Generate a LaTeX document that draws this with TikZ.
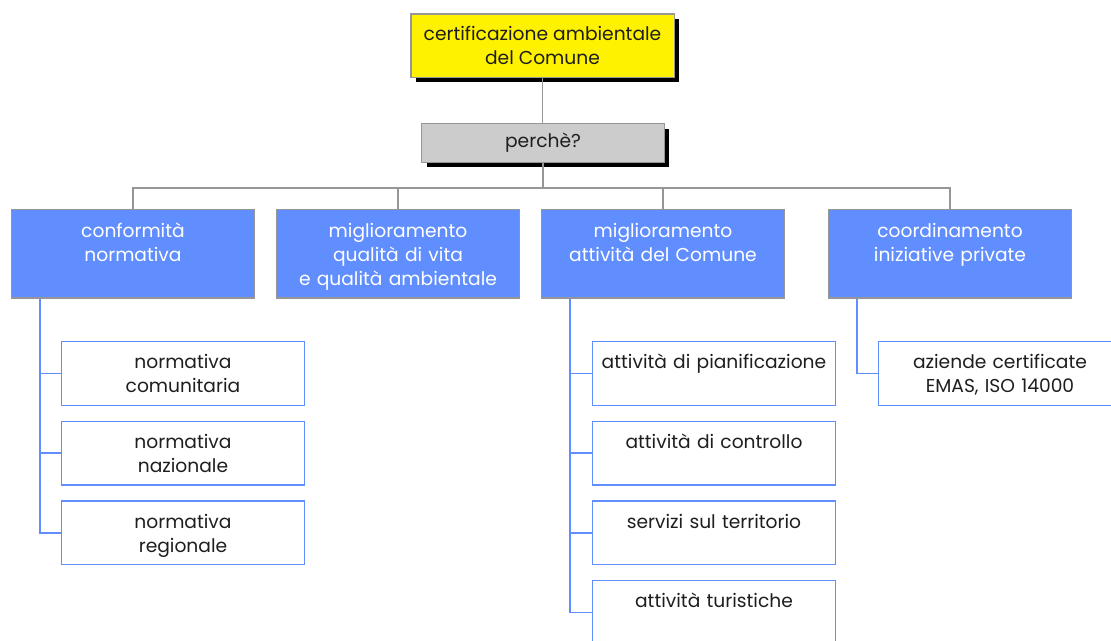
\documentclass[tikz,border=0pt]{standalone}
\usepackage{fontspec}
\setmainfont{Poppins}
\usetikzlibrary{positioning,calc,shadows}

\definecolor{boxblue}{RGB}{97,142,255}
\definecolor{linegray}{RGB}{150,150,150}
\definecolor{headgray}{RGB}{204,204,204}
\definecolor{ink}{RGB}{30,30,30}

\begin{document}
\begin{tikzpicture}[x=0.75pt,y=-0.75pt,
    every node/.style={font=\fontsize{14}{18}\selectfont, text=ink},
    head/.style={draw=linegray, line width=1.1pt, fill=yellow, align=center, inner sep=0pt, minimum width=197.6pt, minimum height=47.6pt, drop shadow={fill=black, opacity=1, shadow xshift=3.75pt, shadow yshift=-3.75pt}},
    why/.style={head, fill=headgray, minimum width=181.9pt, minimum height=29pt},
    area/.style={draw=linegray, line width=1.1pt, fill=boxblue, text=white, align=center, text width=181.9pt, inner sep=0pt, text height=21pt, text depth=45.4pt},
    leaf/.style={draw=boxblue, line width=1.1pt, fill=white, align=center, text width=181.9pt, inner sep=0pt, text height=20.25pt, text depth=27.4pt},
    link/.style={draw=linegray, line width=1.1pt},
    stem/.style={draw=boxblue, line width=1.1pt}]
    \useasboundingbox (0,0) rectangle (1111,640);
    \node[head] (cert) at (542.5,45.5) {certificazione ambientale\\ del Comune};
    \node[why] (perche) at (543,143) {perchè?};
    \node[area, anchor=north] (conf) at (133,208.5) {conformità\\ normativa};
    \node[area, right=15.75pt of conf] (qual) {miglioramento\\ qualità di vita\\ e qualità ambientale};
    \node[area, right=15.75pt of qual] (att) {miglioramento\\ attività del Comune};
    \node[area, right=32.25pt of att] (coord) {coordinamento\\ iniziative private};
    % normative
    \node[leaf, anchor=north] (comun) at (183,341) {normativa\\ comunitaria};
    \node[leaf, below=11pt of comun] (naz) {normativa\\ nazionale};
    \node[leaf, below=11pt of naz] (reg) {normativa\\ regionale};
    % attivita
    \node[leaf, anchor=north] (pian) at (714,341) {attività di pianificazione};
    \node[leaf, below=11pt of pian] (contr) {attività di controllo};
    \node[leaf, below=11pt of contr] (serv) {servizi sul territorio};
    \node[leaf, below=11pt of serv] (tur) {attività turistiche};
    % privati
    \node[leaf, anchor=north] (emas) at (1000,341) {aziende certificate\\ EMAS, ISO 14000};
    \coordinate (bus) at ([yshift=15.4pt]conf.north);
    \draw[link] (cert.south) -- (cert.south |- perche.north);
    \draw[link] (perche.south) -- (perche.south |- bus);
    \draw[link] (conf.north) -- (conf.north |- bus) -| (coord.north);
    \draw[link] (qual.north) -- (qual.north |- bus);
    \draw[link] (att.north) -- (att.north |- bus);
    \foreach \kid in {comun,naz,reg}
      \draw[stem] ([xshift=21.75pt]conf.south west) |- (\kid.west);
    \foreach \kid in {pian,contr,serv,tur}
      \draw[stem] ([xshift=21.75pt]att.south west) |- (\kid.west);
    \draw[stem] ([xshift=21.75pt]coord.south west) |- (emas.west);
\end{tikzpicture}
\end{document}
